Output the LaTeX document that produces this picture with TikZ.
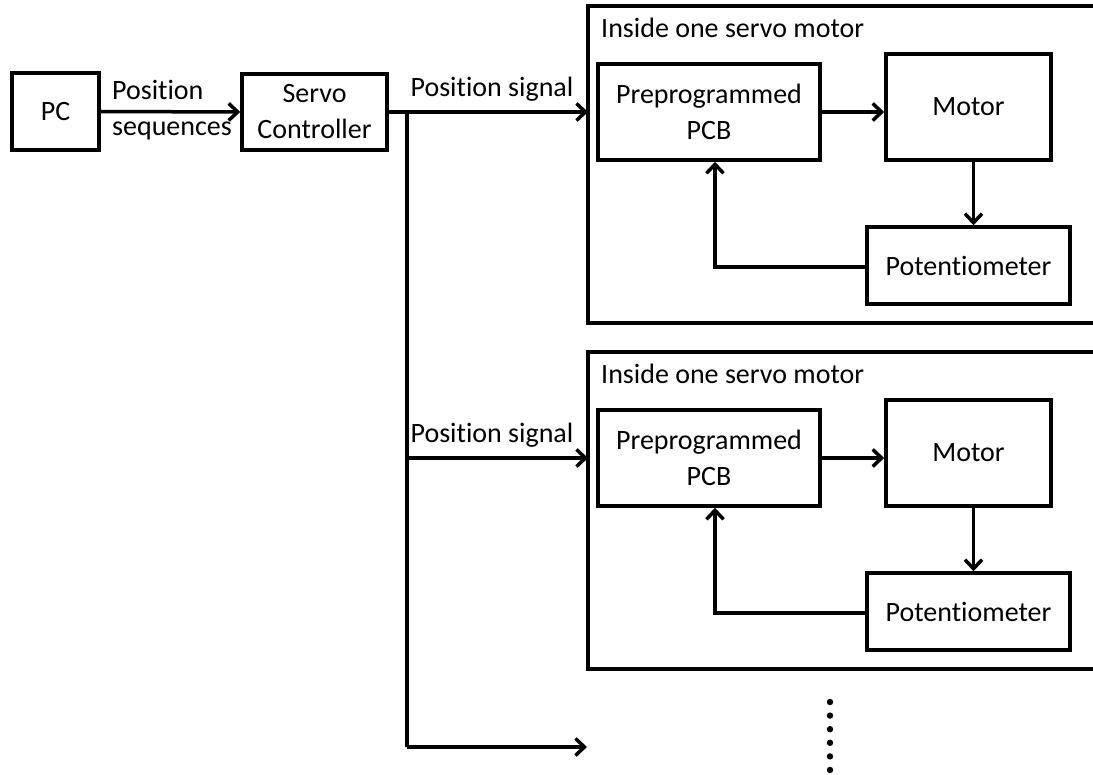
\documentclass[tikz,border=0pt]{standalone}
\usepackage{fontspec}
\setmainfont{Carlito}[RawFeature=-liga]
\usetikzlibrary{arrows.meta,calc}
\begin{document}
\begin{tikzpicture}[x=1pt,y=-1pt,
  every node/.style={font=\fontsize{28}{36}\selectfont},
  blk/.style={draw,line width=3.5pt,inner sep=0pt,align=center},
  conn/.style={line width=3.5pt},
  arr/.style={conn,-{Straight Barb[length=9pt,width=17pt,line width=3.5pt]}},
  lbl/.style={inner sep=0pt}
]
\useasboundingbox (0,0) rectangle (1093,775);
\clip (0,0) rectangle (1093,775);
\fill[white] (0,0) rectangle (1093,775);

\node[blk,minimum width=87pt,minimum height=77pt] (pc) at (55.5,111.5) {PC};
\node[blk,minimum width=145pt,minimum height=76pt] (sc) at (314.5,112) {Servo\\Controller};
\draw[arr] (pc.east) -- (sc.west);
\node[lbl,align=left] (seq) at (172,110) {Position\\sequences};

\coordinate (j1) at (407,112);
\coordinate (j2) at (407,458);
\coordinate (j3) at (407,747);
\coordinate (e3) at (587,747);

\foreach \i/\dy in {1/0,2/346}{
  \begin{scope}[yshift=-\dy pt]
    \draw[line width=3.5pt] (588,6) rectangle (1110,323);
    \node[inner sep=0pt,minimum width=520pt,minimum height=317pt,anchor=north west] (outer\i) at (588,6) {};
    \node[lbl,anchor=base west] (title\i) at (601,38) {Inside one servo motor};
    \node[blk,minimum width=222pt,minimum height=96pt] (pcb\i) at (709,112) {Preprogrammed\\PCB};
    \node[blk,minimum width=165pt,minimum height=106pt] (mot\i) at (968.5,107) {Motor};
    \node[blk,minimum width=203pt,minimum height=77pt] (pot\i) at (968.5,265.5) {Potentiometer};
    \node[lbl] (ps\i) at (492,89) {Position signal};
  \end{scope}
  \draw[arr] (pcb\i.east) -- (pcb\i.east -| mot\i.west);
  \draw[arr] ([xshift=5pt]mot\i.south) -- ([xshift=5pt]mot\i.south |- pot\i.north);
  \draw[arr] (pot\i.west |- {$(pot\i.west)+(0,1.5)$}) -| ([xshift=6pt]pcb\i.south);
}

\draw[conn] (sc.east) -- (j1);
\draw[arr] (j1) -- (j1 -| outer1.west);
\draw[conn] (j1) -- (j3);
\draw[arr] (j2) -- (j2 -| outer2.west);
\draw[arr] (j3) -- (e3);

\foreach \k in {0,...,5}{
  \fill (830,{702+13.6*\k}) circle (3.2pt);
}
\end{tikzpicture}
\end{document}
